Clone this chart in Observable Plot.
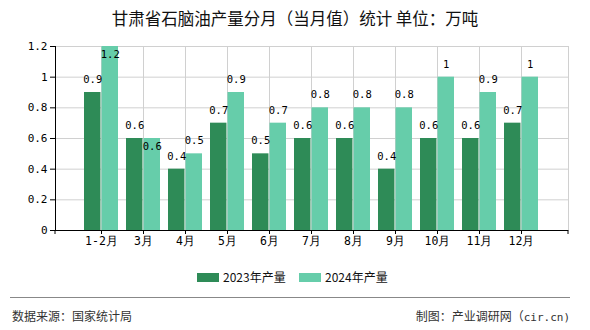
<!DOCTYPE html>
<html><head><meta charset="utf-8">
<script src="https://cdn.jsdelivr.net/npm/d3@7"></script>
<script src="https://cdn.jsdelivr.net/npm/@observablehq/plot@0.6"></script>
<style>
body{margin:0;background:#fff;}
#wrap{position:relative;width:590px;height:330px;font-family:"Noto Sans CJK SC","Noto Sans",sans-serif;overflow:hidden;}
#title{position:absolute;left:0;top:8px;width:590px;text-align:center;font-size:16.5px;line-height:20px;color:#111;}
#chart{position:absolute;left:0;top:0;}
.sw{position:absolute;width:22px;height:9px;top:272.5px;}
.lt{position:absolute;top:268px;font-size:12px;line-height:18px;color:#111;}
#sep{position:absolute;left:10px;top:297px;width:560px;height:0;border-top:1px solid #888;}
.ft{position:absolute;top:307px;font-size:12px;line-height:18px;color:#333;}
.mn{font-family:'DejaVu Sans Mono','Liberation Mono',monospace;font-size:11px;}
</style></head><body>
<div id="wrap">
  <div id="chart"></div>
  <div id="title">甘肃省石脑油产量分月（当月值）统计 单位：万吨</div>
  <div id="legend"></div>
  <div id="sep"></div>
  <div class="ft" style="left:12px;">数据来源：国家统计局</div>
  <div class="ft" style="right:20px;">制图：产业调研网（<span class="mn">cir.cn)</span></div>
</div>
<script>
const months = ["1-2月","3月","4月","5月","6月","7月","8月","9月","10月","11月","12月"];
const seriesNames = ["2023年产量","2024年产量"];
const v2023 = [0.9,0.6,0.4,0.7,0.5,0.6,0.6,0.4,0.6,0.6,0.7];
const v2024 = [1.2,0.6,0.5,0.9,0.7,0.8,0.8,0.8,1,0.9,1];
const colors = ["#2e8b57","#66cdaa"];
const yTicks = [0,0.2,0.4,0.6,0.8,1,1.2];

const W = 590, H = 260, ML = 55, MR = 22, MT = 46, MB = 30;
const PI = 0.18, PO = 0.59;
const step = (W - ML - MR) / (months.length - PI + 2 * PO);
const bw = step * (1 - PI);
const half = bw / 2;
const yMax = 1.2;

const d23 = months.map((m, i) => ({month: m, value: v2023[i]}));
const d24 = months.map((m, i) => ({month: m, value: v2024[i], inside: v2024[i] >= yMax || v2024[i] === v2023[i]}));
const fmt = v => String(+v.toFixed(1));
const mono = "'DejaVu Sans Mono','Liberation Mono',monospace";

const plot = Plot.plot({
  width: W, height: H,
  marginLeft: ML, marginRight: MR, marginTop: MT, marginBottom: MB,
  style: {fontFamily: mono, fontSize: "10.5px", color: "#000", background: "transparent"},
  x: {type: "band", domain: months, paddingInner: PI, paddingOuter: PO, label: null},
  y: {domain: [0, yMax], label: null},
  marks: [
    Plot.gridY(yTicks, {stroke: "#d0d0d0", strokeOpacity: 1}),
    Plot.gridX({stroke: "#d0d0d0", strokeOpacity: 1}),
    Plot.frame({anchor: "right", stroke: "#d0d0d0"}),
    Plot.barY(d23, {x: "month", y: "value", fill: colors[0], insetLeft: 0, insetRight: half}),
    Plot.barY(d24, {x: "month", y: "value", fill: colors[1], insetLeft: half, insetRight: 0}),
    Plot.text(d23, {x: "month", y: "value", text: d => fmt(d.value), dx: -half / 2, dy: -13, fill: "#000"}),
    Plot.text(d24.filter(d => !d.inside), {x: "month", y: "value", text: d => fmt(d.value), dx: half / 2, dy: -13, fill: "#000"}),
    Plot.text(d24.filter(d => d.inside), {x: "month", y: "value", text: d => fmt(d.value), dx: half / 2, dy: 8, fill: "#000"}),
    Plot.axisY(yTicks, {tickSize: 5, tickPadding: 3, tickFormat: fmt, fontSize: 11, fontFamily: mono}),
    Plot.axisX({tickSize: 4, tickPadding: 2, fontSize: 11.5, fontFamily: mono}),
    Plot.frame({anchor: "left", stroke: "#000"}),
    Plot.ruleY([0], {stroke: "#000"})
  ]
});

// end ticks on x axis at both ends of the scale range
const xr = plot.scale("x").range;
const yr = plot.scale("y").range;
const svg = d3.select(plot);
xr.forEach(x => {
  svg.append("line").attr("x1", x).attr("x2", x).attr("y1", yr[0]).attr("y2", yr[0] + 4).attr("stroke", "#000");
});
document.getElementById("chart").appendChild(plot);

// legend
const leg = document.getElementById("legend");
const lx = [197, 299];
seriesNames.forEach((s, i) => {
  const sw = document.createElement("div");
  sw.className = "sw"; sw.style.left = lx[i] + "px"; sw.style.background = colors[i];
  leg.appendChild(sw);
  const t = document.createElement("div");
  t.className = "lt"; t.style.left = (lx[i] + 26) + "px"; t.textContent = s;
  leg.appendChild(t);
});
</script>
</body></html>
